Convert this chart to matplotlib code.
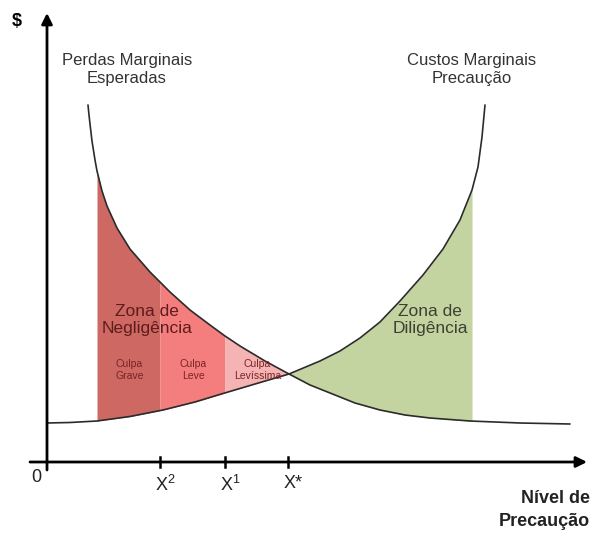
import numpy as np
import matplotlib
matplotlib.use("Agg")
import matplotlib.pyplot as plt

plt.rcParams['font.family'] = ['Liberation Sans', 'DejaVu Sans']
plt.rcParams['mathtext.fontset'] = 'custom'
plt.rcParams['mathtext.rm'] = 'Liberation Sans'
plt.rcParams['mathtext.it'] = 'Liberation Sans'
plt.rcParams['mathtext.bf'] = 'Liberation Sans:bold'

# Curve values (x = precaution level, y = $)
perdas_x = [41, 42, 43, 45, 48, 50, 55, 60, 70, 83, 103, 123, 143, 163, 178, 193, 218, 242,
            263, 283, 308, 333, 358, 383, 423, 473, 523]
perdas_y = [357, 347, 338, 321, 302, 291, 271, 256, 234, 213, 190, 170, 152, 137, 126, 116, 101, 88,
            77, 69, 59, 52, 47, 44, 41, 39, 38]

custos_x = [0, 23, 50, 83, 116, 148, 176, 208, 242, 273, 293, 313, 333, 353, 376, 396, 413,
            425, 431, 435, 438]
custos_y = [39, 39.5, 41, 45.5, 52, 60, 68.5, 78, 88, 101, 111, 124, 140, 161, 187, 213, 242,
            272, 295, 325, 357]

# zone boundaries on the x axis
zone_edges = [50, 113, 178, 241, 425]
zone_names = ["Culpa\nGrave", "Culpa\nLeve", "Culpa\nLevíssima"]
tick_pos = [113, 178, 241]
tick_labels = [r"$\mathrm{X}^{2}$", r"$\mathrm{X}^{1}$", "X*"]

fig = plt.figure(figsize=(5.93, 5.36), dpi=100)
ax = fig.add_axes([0, 0, 1, 1])
ax.set_xlim(-47, 546)
ax.set_ylim(-74, 462)
ax.axis('off')

px = np.array(perdas_x, float)
py = np.array(perdas_y, float)
cx = np.array(custos_x, float)
cy = np.array(custos_y, float)


def band(a, b):
    xs = np.concatenate([[a, b], px[(px > a) & (px < b)], cx[(cx > a) & (cx < b)]])
    xs = np.unique(xs)
    return xs, np.interp(xs, px, py), np.interp(xs, cx, cy)


zone_colors = ['#cd6862', '#f47d7d', '#f5b3b3']
for i in range(3):
    xs, top, bot = band(zone_edges[i], zone_edges[i + 1])
    ax.fill_between(xs, bot, top, color=zone_colors[i], lw=0, zorder=1)
xs, top, bot = band(zone_edges[3], zone_edges[4])
ax.fill_between(xs, top, bot, color='#c3d4a1', lw=0, zorder=1)

ax.plot(px, py, color='#2b2b2b', lw=1.2, zorder=3, solid_capstyle='round', solid_joinstyle='round')
ax.plot(cx, cy, color='#2b2b2b', lw=1.2, zorder=3, solid_capstyle='round', solid_joinstyle='round')

# axes with arrows
ax.annotate('', xy=(540, 0), xytext=(-17, 0),
            arrowprops=dict(arrowstyle='-|>', lw=2.0, color='black', mutation_scale=16,
                            shrinkA=0, shrinkB=0), zorder=4)
ax.annotate('', xy=(0, 449), xytext=(0, -8),
            arrowprops=dict(arrowstyle='-|>', lw=2.0, color='black', mutation_scale=16,
                            shrinkA=0, shrinkB=0), zorder=4)
for t, lab in zip(tick_pos, tick_labels):
    ax.plot([t, t], [-5, 5], color='black', lw=1.8, zorder=4)
    ax.text(t + 5, -13, lab, ha='center', va='top', fontsize=13, color='#222222')
ax.text(-11, -7, "0", ha='center', va='top', fontsize=13, color='#222222')

ax.text(-30, 440, r"\$", ha='center', va='center', fontsize=13, fontweight='bold')
ax.text(543, -48, "Nível de\nPrecaução", ha='right', va='center', fontsize=13,
        fontweight='bold', multialignment='right', linespacing=1.45, color='#222222')

ax.text(80, 392, "Perdas Marginais\nEsperadas", ha='center', va='center', fontsize=12,
        color='#333333', linespacing=1.25)
ax.text(425, 392, "Custos Marginais\nPrecaução", ha='center', va='center', fontsize=12,
        color='#333333', linespacing=1.25)

ax.text(100, 142, "Zona de\nNegligência", ha='center', va='center', fontsize=12.5,
        color='#5e1c1c', linespacing=1.15, zorder=5)
ax.text(383, 142, "Zona de\nDiligência", ha='center', va='center', fontsize=12.5,
        color='#3a4232', linespacing=1.15, zorder=5)

for i, name in enumerate(zone_names):
    cxm = (zone_edges[i] + zone_edges[i + 1]) / 2 + 1
    ax.text(cxm, 92, name, ha='center', va='center', fontsize=7.5, color='#7a2424',
            linespacing=1.2, zorder=5)

fig.savefig("out.png", dpi=100)
